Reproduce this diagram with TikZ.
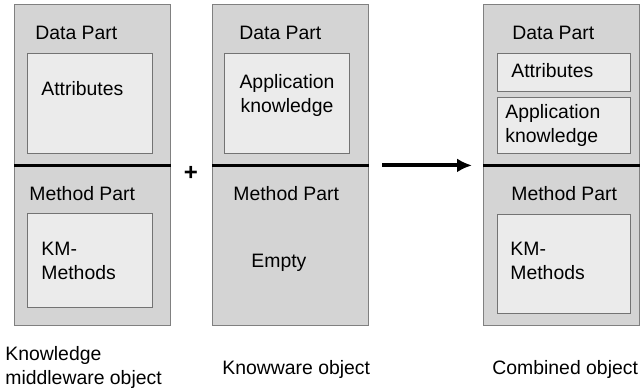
\documentclass[tikz,border=0pt]{standalone}
\usepackage{fontspec}
\setmainfont{Liberation Sans}
\usetikzlibrary{arrows,arrows.meta}
\usetikzlibrary{positioning}

\begin{document}
\begin{tikzpicture}[x=0.5pt,y=-0.5pt]
%% box shape and color
\tikzstyle{part}=[rectangle,fill=black!17,draw=black!50,line width=0.7pt,minimum width=78pt,minimum height=80pt,inner sep=0pt,anchor=north west]
\tikzstyle{inbox}=[rectangle,fill=black!8,draw=black!55,line width=0.6pt,inner sep=0pt,anchor=north west]
\tikzstyle{lbl}=[anchor=west,inner sep=0pt,align=left,font=\fontsize{9.7}{12}\selectfont]
\useasboundingbox (0,0) rectangle (644,390);

%% outer boxes
% data part / method part
\foreach \name/\x in {km/14,kw/212,cb/483}{
\node[part] (\name-data) at (\x,4) {};
\node[part,minimum height=80.5pt] (\name-meth) at (\x,164) {};
\draw[line width=1.5pt] (\name-data.south west) -- (\name-data.south east);
}

%% inner boxes
\node[inbox,minimum width=62.5pt,minimum height=50pt] (km-attr) at (27,53) {};
\node[inbox,minimum width=62.5pt,minimum height=47pt] (km-km) at (27,213) {};
\node[inbox,minimum width=62.5pt,minimum height=50pt] (kw-app) at (224,53) {};
\node[inbox,minimum width=66.5pt,minimum height=19pt] (cb-attr) at (497,53) {};
\node[inbox,minimum width=66.5pt,minimum height=28pt] (cb-app) at (497,97) {};
\node[inbox,minimum width=66.5pt,minimum height=49.5pt] (cb-km) at (497,214) {};

%% texts
% knowledge middleware object
\node[lbl] (km-dlbl) at (35,33) {Data Part};
\node[lbl] (km-albl) at (41,89) {Attributes};
\node[lbl] (km-mlbl) at (29,194) {Method Part};
\node[lbl] (km-klbl) at (41,261) {KM-\\Methods};
% knowware object
\node[lbl] (kw-dlbl) at (239,33) {Data Part};
\node[lbl,anchor=center,align=center] (kw-albl) at (287,95) {Application\\knowledge};
\node[lbl] (kw-mlbl) at (233,194) {Method Part};
\node[lbl] (kw-elbl) at (251,263) {Empty};
% combined object
\node[lbl] (cb-dlbl) at (512,33) {Data Part};
\node[lbl] (cb-albl) at (511,71) {Attributes};
\node[lbl] (cb-plbl) at (505,125) {Application\\knowledge};
\node[lbl] (cb-mlbl) at (511,194) {Method Part};
\node[lbl] (cb-klbl) at (510,261) {KM-\\Methods};
% captions
\node[lbl] (km-cap) at (5,367) {Knowledge\\middleware object};
\node[lbl] (kw-cap) at (222,369) {Knowware object};
\node[lbl] (cb-cap) at (492,369) {Combined object};

%% plus and arrow
\node[lbl,anchor=center,font=\fontsize{12}{12}\selectfont\bfseries] (plus) at (191,173) {+};
\draw[-{Latex[length=7.5pt,width=7pt]},line width=2pt,shorten <=6.5pt,shorten >=5.5pt] (kw-data.south east) -- (cb-data.south west);
\end{tikzpicture}
\end{document}
